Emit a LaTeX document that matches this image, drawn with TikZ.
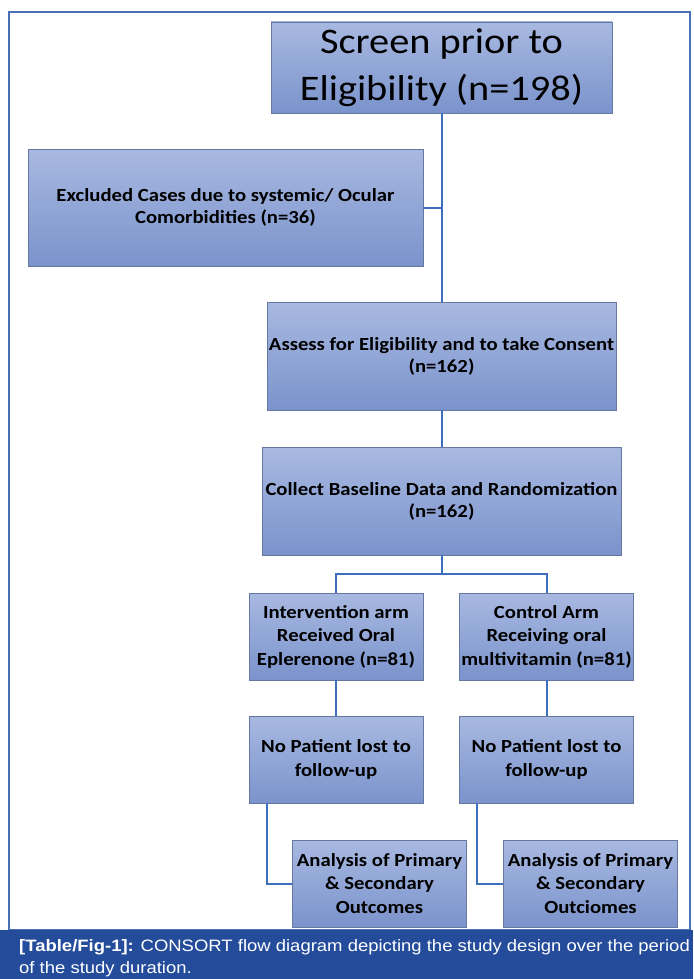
\documentclass[tikz,border=0pt]{standalone}
\usepackage{fontspec}
\usepackage{xcolor}
\usetikzlibrary{positioning,calc}
\newfontfamily\boxfont{Carlito}[FakeStretch=1.12]
\newfontfamily\capfont{Liberation Sans}[FakeStretch=1.12]
\definecolor{boxtop}{HTML}{A8B9E1}
\definecolor{boxbot}{HTML}{7B93CC}
\definecolor{boxline}{HTML}{66789F}
\definecolor{linkblue}{HTML}{3E6EBE}
\definecolor{frameblue}{HTML}{4A70B8}
\definecolor{capblue}{HTML}{244C9B}

\begin{document}
\begin{tikzpicture}[x=1pt, y=-1pt,
  box/.style={rectangle, draw=boxline, line width=0.8pt,
              top color=boxtop, bottom color=boxbot, inner sep=0pt,
              align=center, font=\boxfont\bfseries\fontsize{18.5}{22}\selectfont},
  wide/.style={box, minimum height=108pt},
  small/.style={box, minimum width=174pt, minimum height=87pt,
                font=\boxfont\bfseries\fontsize{18.5}{23.5}\selectfont},
  link/.style={linkblue, line width=2pt},
  captext/.style={text=white, align=left, inner sep=0pt,
              font=\capfont\fontsize{16.5}{22}\selectfont}
]
\useasboundingbox (0,0) rectangle (693,979);
\draw[frameblue, line width=1.2pt] (9,12) rectangle (690,930);

\node[box, minimum width=341pt, minimum height=91pt,
      font=\boxfont\fontsize{36}{46.5}\selectfont] (screen) at (441.5,67.5)
      {Screen prior to\\Eligibility (n=198)};
\node[box, minimum width=395pt, minimum height=117pt] (excl) at (225.5,207.5)
      {Excluded Cases due to systemic/ Ocular\\Comorbidities (n=36)};
\node[wide, minimum width=349pt] (assess) at (441.5,356)
      {Assess for Eligibility and to take Consent\\(n=162)};
\node[wide, minimum width=359pt] (collect) at (441.5,501)
      {Collect Baseline Data and Randomization\\(n=162)};
\node[small] (interv) at (336,636.5)   {Intervention arm\\Received Oral\\Eplerenone (n=81)};
\node[small] (ctrl)   at (546.5,636.5) {Control Arm\\Receiving oral\\multivitamin (n=81)};
\node[small] (lostI)  at (336,759.5)   {No Patient lost to\\follow-up};
\node[small] (lostC)  at (546.5,759.5) {No Patient lost to\\follow-up};
\node[small] (anaI)   at (379.5,883.5) {Analysis of Primary\\\& Secondary\\Outcomes};
\node[small] (anaC)   at (590.5,883.5) {Analysis of Primary\\\& Secondary\\Outciomes};

\coordinate (split) at ($(collect.south)+(0,19)$);
\draw[link](screen)--(assess); \draw[link](excl.east)-|(screen.south);
\draw[link](assess)--(collect); \draw[link](collect.south)--(split);
\draw[link](interv.north)|-(split)-|(ctrl.north);
\draw[link](interv)--(lostI); \draw[link](ctrl)--(lostC);
\draw[link]($(lostI.south west)+(18,0)$)|-(anaI.west);
\draw[link]($(lostC.south west)+(18,0)$)|-(anaC.west);

\fill[capblue] (0,930) rectangle (693,979);
\node[captext, anchor=north west] (caption) at (19,939)
  {\textbf{[Table/Fig-1]:} CONSORT flow diagram depicting the study design over the period\\of the study duration.};
\end{tikzpicture}
\end{document}
